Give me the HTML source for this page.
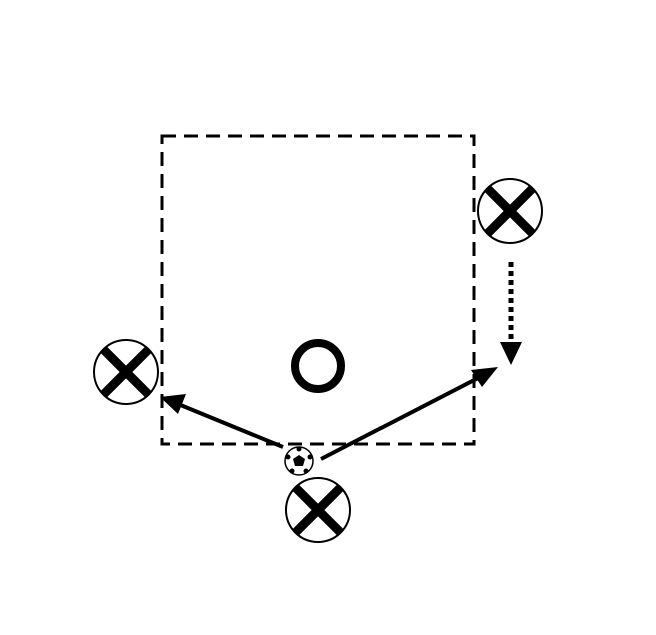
<!DOCTYPE html>
<html><head><style>body{margin:0;background:#fff}</style></head><body>
<svg width="656" height="630" viewBox="0 0 656 630" xmlns="http://www.w3.org/2000/svg">
<rect x="162" y="136" width="312" height="308" fill="none" stroke="#000" stroke-width="3" stroke-dasharray="14 8"/>
<g stroke="#000">
<circle cx="126" cy="372" r="32" fill="#fff" stroke-width="2"/>
<line x1="103" y1="349" x2="149" y2="395" stroke-width="9"/><line x1="149" y1="349" x2="103" y2="395" stroke-width="9"/>
<circle cx="510" cy="211" r="32" fill="#fff" stroke-width="2"/>
<line x1="487" y1="188" x2="533" y2="234" stroke-width="9"/><line x1="533" y1="188" x2="487" y2="234" stroke-width="9"/>
<circle cx="318" cy="510" r="32" fill="#fff" stroke-width="2"/>
<line x1="295" y1="487" x2="341" y2="533" stroke-width="9"/><line x1="341" y1="487" x2="295" y2="533" stroke-width="9"/>
<circle cx="318" cy="366" r="23" fill="none" stroke-width="8"/>
<line x1="283" y1="447" x2="178" y2="404" stroke-width="4"/>
<line x1="321" y1="459" x2="482" y2="376" stroke-width="4"/>
<line x1="511" y1="262" x2="511" y2="344" stroke-width="5" stroke-dasharray="5 4"/>
</g>
<polygon points="160,397 186,394 178,414" fill="#000"/>
<polygon points="498,367 471,370 482,387" fill="#000"/>
<polygon points="500,342 522,342 511,365" fill="#000"/>
<circle cx="299" cy="461" r="14" fill="#fff" stroke="#000" stroke-width="1.5"/>
<polygon points="299,455 305,459 303,466 295,466 293,459" fill="#000"/>
<g fill="#000"><circle cx="299" cy="449" r="2.5"/><circle cx="310" cy="457" r="2.5"/><circle cx="288" cy="457" r="2.5"/><circle cx="306" cy="471" r="2.5"/><circle cx="292" cy="471" r="2.5"/></g>
</svg>
</body></html>
